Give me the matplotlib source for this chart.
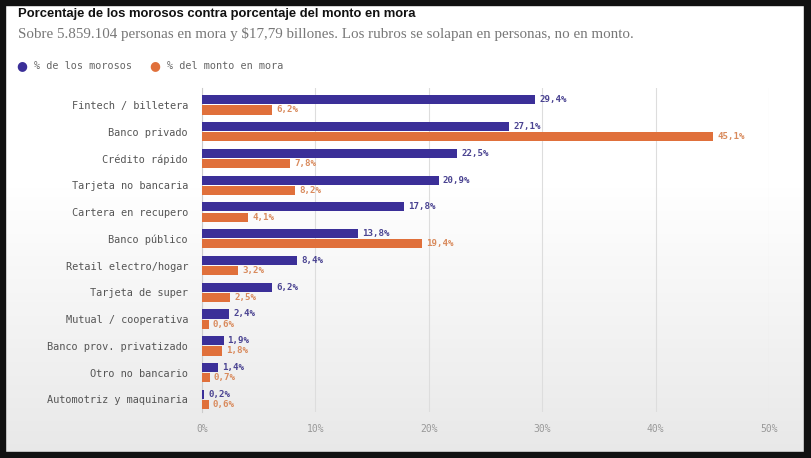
import numpy as np
import matplotlib
matplotlib.use('Agg')
import matplotlib.pyplot as plt
from matplotlib.patches import Rectangle

categories = ['Fintech / billetera', 'Banco privado', 'Crédito rápido', 'Tarjeta no bancaria',
              'Cartera en recupero', 'Banco público', 'Retail electro/hogar', 'Tarjeta de super',
              'Mutual / cooperativa', 'Banco prov. privatizado', 'Otro no bancario',
              'Automotriz y maquinaria']
pct_morosos = [29.4, 27.1, 22.5, 20.9, 17.8, 13.8, 8.4, 6.2, 2.4, 1.9, 1.4, 0.2]
pct_monto = [6.2, 45.1, 7.8, 8.2, 4.1, 19.4, 3.2, 2.5, 0.6, 1.8, 0.7, 0.6]
ticks = [0, 10, 20, 30, 40, 50]

PURPLE = '#3b2f98'
ORANGE = '#e0703b'
PURPLE_TXT = '#4a4391'
ORANGE_TXT = '#d98a5c'
MONO = 'DejaVu Sans Mono'

W, H = 811, 458
fig = plt.figure(figsize=(W / 100, H / 100), dpi=100)

# background: white fading to light gray, inside a black frame
bg = fig.add_axes([0, 0, 1, 1], zorder=-10)
grad = np.concatenate([np.ones(40), np.linspace(1.0, 0.91, 60)])[:, None]
bg.imshow(np.repeat(grad, 3, axis=1)[:, :, None] * np.ones((1, 1, 3)), aspect='auto',
          extent=[0, 1, 0, 1], origin='upper')
bg.set_xlim(0, 1)
bg.set_ylim(0, 1)
bg.axis('off')
for (x0, y0, w, h) in [(0, 0, 5, H), (804, 0, W - 804, H), (0, 0, W, 5), (0, 452, W, H - 452)]:
    fig.patches.append(Rectangle((x0 / W, 1 - (y0 + h) / H), w / W, h / H,
                                 transform=fig.transFigure, color='#111111', zorder=5))

# title / subtitle / legend
fig.text(18 / W, 1 - 14 / H, 'Porcentaje de los morosos contra porcentaje del monto en mora',
         fontsize=9.35, fontweight='bold', family='Liberation Sans', color='#111111', va='center')
fig.text(18 / W, 1 - 34 / H,
         'Sobre 5.859.104 personas en mora y $17,79 billones. Los rubros se solapan en personas, no en monto.',
         fontsize=10.8, family='Liberation Serif', color='#777777', va='center')
for lx, col, txt in [(22, PURPLE, '% de los morosos'), (155, ORANGE, '% del monto en mora')]:
    fig.text(lx / W, 1 - 66 / H, '\u25cf', fontsize=9, color=col, ha='center', va='center',
             family='DejaVu Sans')
    fig.text((lx + 12) / W, 1 - 66 / H, txt, fontsize=7.3, family=MONO, color='#666666', va='center')

# main chart
ax = fig.add_axes([202 / W, 1 - 412 / H, (769 - 202) / W, (412 - 88) / H])
ax.patch.set_alpha(0)
y = np.arange(len(categories))
bh = 0.34
off = 0.19
ax.barh(y - off, pct_morosos, height=bh, color=PURPLE, zorder=3)
ax.barh(y + off, pct_monto, height=bh, color=ORANGE, zorder=3)
for i in range(len(categories)):
    ax.text(pct_morosos[i] + 0.35, y[i] - off, f'{pct_morosos[i]:.1f}'.replace('.', ',') + '%',
            fontsize=6.6, fontweight='bold', family=MONO, color=PURPLE_TXT, va='center')
    ax.text(pct_monto[i] + 0.35, y[i] + off, f'{pct_monto[i]:.1f}'.replace('.', ',') + '%',
            fontsize=6.6, fontweight='bold', family=MONO, color=ORANGE_TXT, va='center')

ax.set_xlim(0, 50)
ax.set_ylim(11.47, -0.63)
ax.set_xticks(ticks)
ax.set_xticklabels([f'{t}%' for t in ticks], family=MONO, fontsize=7, color='#999999')
ax.set_yticks(y)
ax.set_yticklabels(categories, family=MONO, fontsize=7.4, color='#555555')
ax.tick_params(axis='both', length=0)
ax.tick_params(axis='x', pad=9)
ax.tick_params(axis='y', pad=10)
ax.grid(axis='x', color='#dddddd', linewidth=0.8, zorder=0)
for s in ['top', 'right', 'bottom']:
    ax.spines[s].set_visible(False)
ax.spines['left'].set_color('#cccccc')
ax.spines['left'].set_linewidth(0.8)

fig.savefig('out.png', dpi=100)
